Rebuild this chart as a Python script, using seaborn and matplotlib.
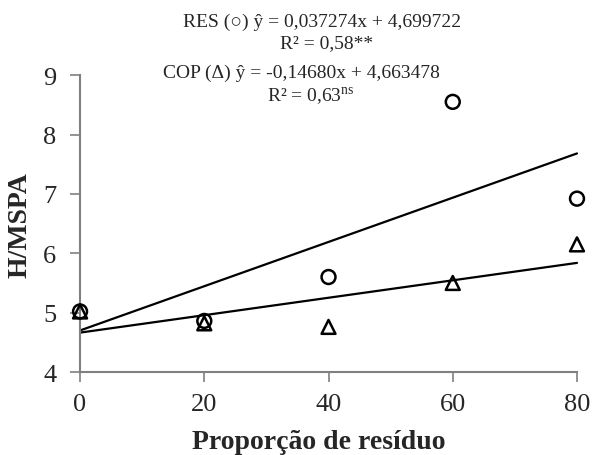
import numpy as np
import pandas as pd
import matplotlib
matplotlib.use("Agg")
import matplotlib.pyplot as plt
import seaborn as sns

# data
x_vals = [0, 20, 40, 60, 80]
res_vals = [5.02, 4.86, 5.60, 8.55, 6.92]
cop_vals = [5.02, 4.82, 4.76, 5.50, 6.15]
res_coef = (0.037274, 4.699722)
cop_coef = (0.014680, 4.663478)
x_ticks = [0, 20, 40, 60, 80]
y_ticks = [4, 5, 6, 7, 8, 9]
eq_res = "RES (\u25cb) \u0177 = 0,037274x + 4,699722"
r2_res = "R\u00b2 = 0,58**"
eq_cop = "COP (\u0394) \u0177 = -0,14680x + 4,663478"
r2_cop = "R\u00b2 = 0,63$^{\\mathregular{ns}}$"

sns.set_theme(style="white")
plt.rcParams["font.family"] = ["Liberation Serif", "DejaVu Serif"]
plt.rcParams["mathtext.fontset"] = "custom"
plt.rcParams["mathtext.rm"] = "Liberation Serif"

fig = plt.figure(figsize=(5.93, 4.56), dpi=100)
ax = fig.add_axes([0.135, 0.182, 0.838, 0.651])

pts = pd.DataFrame({
    "x": x_vals * 2,
    "y": res_vals + cop_vals,
    "g": ["RES"] * 5 + ["COP"] * 5,
})
sns.scatterplot(data=pts, x="x", y="y", style="g",
                markers={"RES": "o", "COP": "^"}, s=100,
                edgecolor="black", linewidth=1.8,
                color="black", legend=False, ax=ax, zorder=3)
for coll in ax.collections:
    coll.set_facecolor("none")
    coll.set_edgecolor("black")

xx = np.array([0, 80])
lines = pd.DataFrame({
    "x": np.concatenate([xx, xx]),
    "y": np.concatenate([res_coef[0] * xx + res_coef[1], cop_coef[0] * xx + cop_coef[1]]),
    "g": ["RES", "RES", "COP", "COP"],
})
sns.lineplot(data=lines, x="x", y="y", units="g", estimator=None,
             color="black", linewidth=1.6, ax=ax, legend=False)

ax.set_xlim(0, 80)
ax.set_ylim(4, 9)
ax.set_xticks(x_ticks)
ax.set_yticks(y_ticks)
ax.tick_params(axis="both", labelsize=19, direction="out", length=7,
               width=1.2, color="#808080", bottom=True, left=True)
ax.tick_params(axis="y", pad=10)
ax.tick_params(axis="x", pad=8)
for side in ["top", "right"]:
    ax.spines[side].set_visible(False)
for side in ["left", "bottom"]:
    ax.spines[side].set_color("#808080")
    ax.spines[side].set_linewidth(1.5)
for art in ax.collections + ax.lines:
    art.set_clip_on(False)

ax.set_xlabel("Propor\u00e7\u00e3o de res\u00edduo", fontsize=20, fontweight="bold")
ax.set_ylabel("H/MSPA", fontsize=20, fontweight="bold")
ax.xaxis.set_label_coords(0.48, -0.235)
ax.yaxis.set_label_coords(-0.12, 0.5)
ax.yaxis.label.set_va("center")
ax.xaxis.label.set_va("center")

fig.text(322 / 593, 1 - 22 / 456, eq_res, ha="center", va="center", fontsize=14)
fig.text(327 / 593, 1 - 44 / 456, r2_res, ha="center", va="center", fontsize=14)
fig.text(301 / 593, 1 - 73 / 456, eq_cop, ha="center", va="center", fontsize=14)
fig.text(311 / 593, 1 - 97 / 456, r2_cop, ha="center", va="center", fontsize=14)

fig.savefig("out.png", dpi=100)
